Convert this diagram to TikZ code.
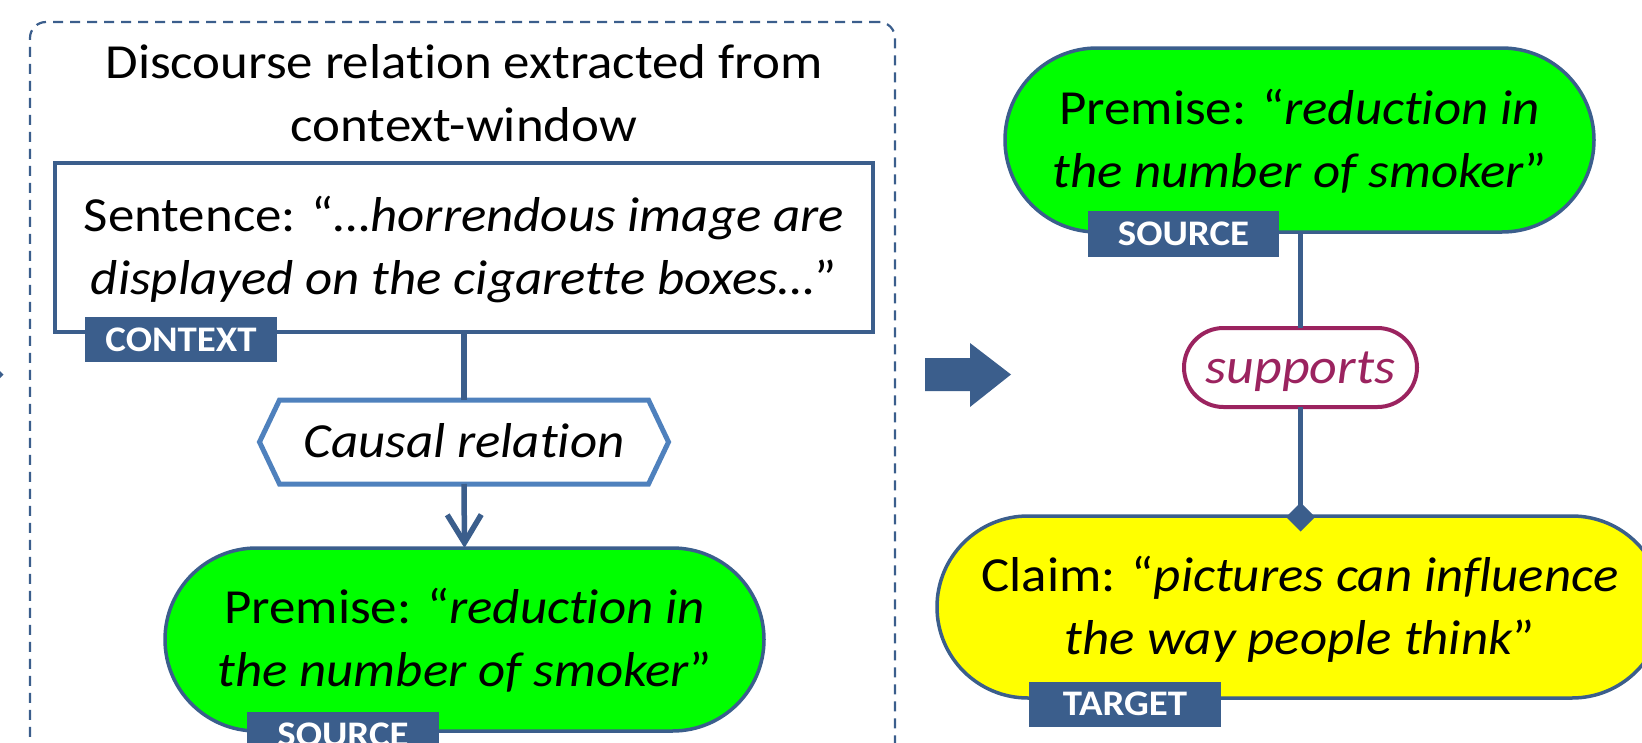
\documentclass[tikz,border=0pt]{standalone}
\usepackage{fontspec}
\setmainfont{Carlito}[FakeStretch=1.08, Ligatures=NoCommon]
\usetikzlibrary{arrows.meta,shapes.misc,calc}
\definecolor{dkblue}{RGB}{59,94,140}
\definecolor{hexblue}{RGB}{79,129,189}
\definecolor{relmaroon}{RGB}{155,35,95}
\definecolor{brightgreen}{RGB}{0,255,0}
\definecolor{brightyellow}{RGB}{255,255,0}
\begin{document}
\begin{tikzpicture}[x=1pt,y=-1pt,
  frame/.style={draw=dkblue, line width=2.2pt, dash pattern=on 10pt off 7pt, rounded corners=16pt, inner sep=0pt, outer sep=0pt},
  maintext/.style={font=\fontsize{49}{63}\selectfont, align=center, inner sep=0pt, outer sep=0pt},
  twoline/.style={maintext, text height=94pt, text depth=0pt},
  oneline/.style={maintext, text height=31pt, text depth=0pt},
  ctxbox/.style={twoline, draw=dkblue, line width=3.5pt, fill=white},
  term/.style={twoline, rounded rectangle, draw=dkblue, line width=3.5pt},
  relbox/.style={oneline, rounded rectangle, draw=relmaroon, line width=4pt, text=relmaroon, font=\fontsize{50}{60}\selectfont\itshape},
  tag/.style={fill=dkblue, text=white, font=\bfseries\fontsize{36}{40}\selectfont, inner sep=0pt, outer sep=0pt, text height=23pt, text depth=0pt},
  conn/.style={draw=dkblue, line width=5.5pt}
]
\useasboundingbox (0,0) rectangle (1642,742);
\clip (0,0) rectangle (1642,742);

% left panel frame
\node[frame, anchor=north west, minimum width=865pt, minimum height=790pt] (frame) at (30,22) {};
\node[maintext, text height=94pt, text depth=0pt] (title) at (464,94.2)
  {Discourse relation extracted from\\context-window};

\node[ctxbox, minimum width=818pt, minimum height=169pt] (sent) at (464,247.5)
  {Sentence: “\textit{…horrendous image are}\\\textit{displayed on the cigarette boxes…}”};
\node[tag, minimum width=192pt, minimum height=45pt] (ctxtag) at (181,339.5) {CONTEXT};

\node[oneline, font=\fontsize{49}{60}\selectfont\itshape, minimum width=369pt, minimum height=84pt] (hex) at (464,442) {Causal relation};
\draw[hexblue, line width=5pt, line join=miter]
  (hex.north west) -- (hex.north east) -- ($(hex.east)+(20,0)$) -- (hex.south east)
  -- (hex.south west) -- ($(hex.west)+(-20,0)$) -- cycle;

\node[term, fill=brightgreen, minimum width=599pt, minimum height=183pt] (premL) at (464.5,639.5)
  {Premise: “\textit{reduction in}\\\textit{the number of smoker}”};
\node[tag, minimum width=192pt, minimum height=45pt] (srcL) at (343,734.5) {SOURCE};

\draw[conn] (sent.south) -- (hex.north);
\draw[conn, -{Straight Barb[length=28pt, width=34pt]}] (hex.south) -- (premL.north);

% small arrow fragment at the left edge
\fill[dkblue] (0,371) -- (3.5,374.5) -- (0,378) -- cycle;

% block arrow
\fill[dkblue] (925,358) -- (970,358) -- (970,343) -- (1011,374.5) -- (970,407) -- (970,391) -- (925,391) -- cycle;

% right panel
\node[term, fill=brightgreen, minimum width=589pt, minimum height=184pt] (premR) at (1299.5,140)
  {Premise: “\textit{reduction in}\\\textit{the number of smoker}”};
\node[tag, minimum width=191pt, minimum height=46pt] (srcR) at (1183.5,234) {SOURCE};

\node[relbox, minimum width=233pt, minimum height=79pt] (rel) at (1300.5,367.5) {supports};

\node[term, fill=brightyellow, minimum width=726pt, minimum height=182pt] (claim) at (1300,607)
  {Claim: “\textit{pictures can influence}\\\textit{the way people think}”};
\node[tag, minimum width=192pt, minimum height=45pt] (tgt) at (1125,704) {TARGET};

\draw[conn] (premR.south -| rel.north) -- (rel.north);
\draw[conn, -{Diamond[length=29pt, width=29pt]}, shorten >=-15.5pt] (rel.south) -- (rel.south |- claim.north);
\end{tikzpicture}
\end{document}
